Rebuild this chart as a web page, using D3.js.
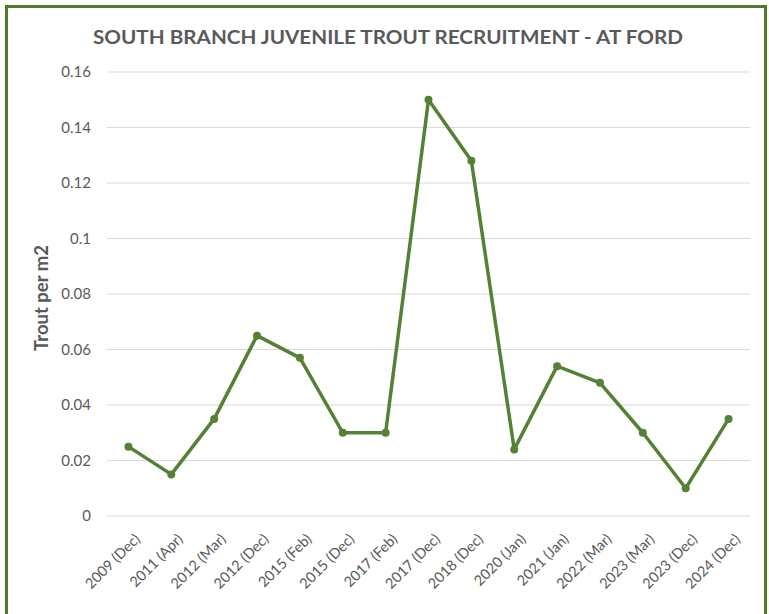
<!DOCTYPE html>
<html>
<head>
<meta charset="utf-8">
<script src="https://cdn.jsdelivr.net/npm/d3@7"></script>
<style>
  body { margin: 0; background: #fff; }
  svg { display: block; }
</style>
</head>
<body>
<svg id="chart" width="769" height="614"></svg>
<script>
const categories = ["2009 (Dec)", "2011 (Apr)", "2012 (Mar)", "2012 (Dec)", "2015 (Feb)",
  "2015 (Dec)", "2017 (Feb)", "2017 (Dec)", "2018 (Dec)", "2020 (Jan)",
  "2021 (Jan)", "2022 (Mar)", "2023 (Mar)", "2023 (Dec)", "2024 (Dec)"];
const troutPerM2 = [0.025, 0.015, 0.035, 0.065, 0.057, 0.03, 0.03, 0.15, 0.128, 0.024,
  0.054, 0.048, 0.03, 0.01, 0.035];
const yTicks = [0, 0.02, 0.04, 0.06, 0.08, 0.1, 0.12, 0.14, 0.16];

const width = 769, height = 614;
const margin = { top: 72, right: 19, bottom: 98, left: 107 };
const lineColor = "#548235";
const textColor = "#595959";
const font = "Lato, 'Open Sans', sans-serif";

var svg = d3.select("#chart");

// outer frame (bottom edge is cut off in the picture)
svg.append("rect")
  .attr("x", 6.5).attr("y", 6.5)
  .attr("width", 759).attr("height", 640)
  .attr("fill", "#fff")
  .attr("stroke", "#4e7a2a")
  .attr("stroke-width", 3);

svg.append("text")
  .attr("x", 388).attr("y", 44)
  .attr("text-anchor", "middle")
  .attr("font-family", font)
  .attr("font-size", 19)
  .attr("font-weight", "bold")
  .attr("fill", textColor)
  .attr("textLength", 590)
  .attr("lengthAdjust", "spacingAndGlyphs")
  .text("SOUTH BRANCH JUVENILE TROUT RECRUITMENT - AT FORD");

let x = d3.scalePoint()
  .domain(categories)
  .range([margin.left, width - margin.right])
  .padding(0.5);

let y = d3.scaleLinear()
  .domain([0, 0.16])
  .range([height - margin.bottom, margin.top]);

// gridlines
svg.append("g")
  .selectAll("line")
  .data(yTicks)
  .join("line")
  .attr("x1", margin.left)
  .attr("x2", width - margin.right)
  .attr("y1", d => y(d))
  .attr("y2", d => y(d))
  .attr("stroke", "#d9d9d9")
  .attr("stroke-width", 1.2);

// y axis labels
let yAxis = svg.append("g")
  .attr("transform", `translate(${margin.left - 6},0)`)
  .call(d3.axisLeft(y).tickValues(yTicks).tickSize(0).tickPadding(10)
    .tickFormat(d => String(+d.toFixed(2))));
yAxis.select(".domain").remove();
yAxis.selectAll("text")
  .attr("font-family", font)
  .attr("font-size", 15)
  .attr("fill", textColor);

// x axis labels
let xAxis = svg.append("g")
  .attr("transform", `translate(0,${height - margin.bottom})`)
  .call(d3.axisBottom(x).tickSize(0).tickPadding(0));
xAxis.select(".domain").remove();
xAxis.selectAll("text")
  .attr("font-family", font)
  .attr("font-size", 14.5)
  .attr("fill", textColor)
  .attr("text-anchor", "end")
  .attr("dy", null)
  .attr("y", 0)
  .attr("transform", "translate(12,24) rotate(-45)");

svg.append("text")
  .attr("transform", `translate(48,298) rotate(-90)`)
  .attr("text-anchor", "middle")
  .attr("font-family", font)
  .attr("font-size", 18.5)
  .attr("font-weight", "bold")
  .attr("fill", textColor)
  .text("Trout per m2");

let line = d3.line()
  .x((d, i) => x(categories[i]))
  .y(d => y(d));

svg.append("path")
  .datum(troutPerM2)
  .attr("d", line)
  .attr("fill", "none")
  .attr("stroke", lineColor)
  .attr("stroke-width", 3.5)
  .attr("stroke-linejoin", "round");

svg.append("g")
  .selectAll("circle")
  .data(troutPerM2)
  .join("circle")
  .attr("cx", (d, i) => x(categories[i]))
  .attr("cy", d => y(d))
  .attr("r", 4)
  .attr("fill", lineColor);
</script>
</body>
</html>
